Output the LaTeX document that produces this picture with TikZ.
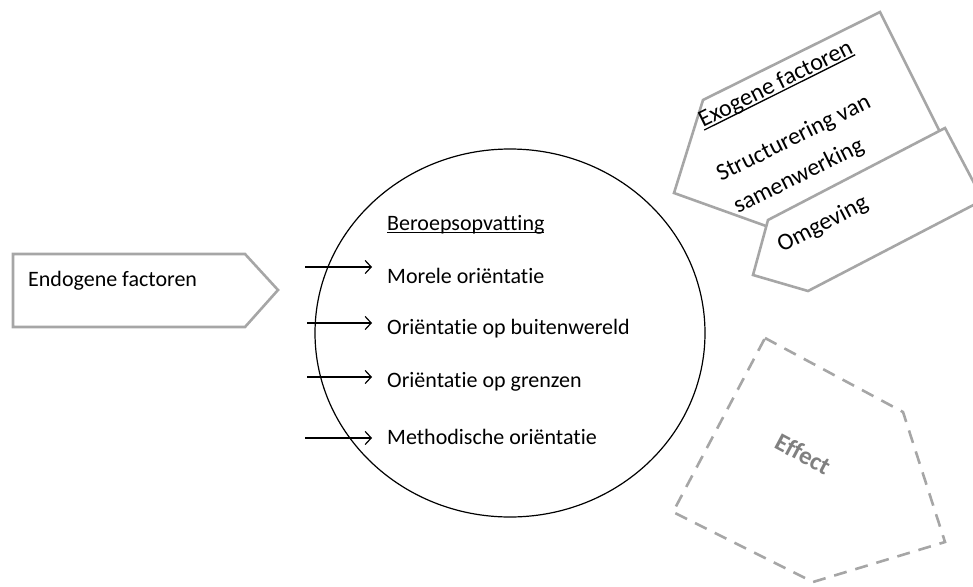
\documentclass[tikz,border=0pt]{standalone}
\usepackage{fontspec}
\setmainfont{Carlito}[Ligatures=NoCommon]
\usetikzlibrary{arrows.meta,shapes.geometric}
\definecolor{boxgray}{RGB}{166,166,166}
\definecolor{effgray}{RGB}{128,128,128}
\newcommand\myul[1]{\setbox0\hbox{#1}\rlap{\rule[-3pt]{\wd0}{1.3pt}}#1}
\begin{document}
\begin{tikzpicture}[x=1pt,y=-1pt,
  shapeline/.style={draw=boxgray,line width=2.6pt,fill=white,line join=miter},
  dashline/.style={draw=boxgray,line width=2.6pt,dash pattern=on 13pt off 9pt},
  lbl/.style={inner sep=0pt,font=\fontsize{22}{34}\selectfont},
  rlbl/.style={inner sep=0pt,font=\fontsize{24}{34}\selectfont},
  arr/.style={line width=1.2pt,-{Straight Barb[length=6pt,width=13pt,line width=1.2pt]}}]
\useasboundingbox (0,0) rectangle (973,586);
\clip (0,0) rectangle (973,586);
% left pentagon
\draw[shapeline] (13,254) -- (245,254) -- (278,290) -- (245,327) -- (13,327) -- cycle;
\node[lbl,anchor=base west] (endo) at (28,286) {Endogene factoren};
% ellipse
\node[draw,ellipse,line width=1.2pt,minimum width=390pt,minimum height=368pt,inner sep=0pt] (circ) at (510,333) {};
\node[lbl,anchor=base west] (beroep) at (387,230) {\myul{Beroepsopvatting}};
\node[lbl,anchor=base west] (m1) at (387,283) {Morele oriëntatie};
\node[lbl,anchor=base west] (m2) at (387,334) {Oriëntatie op buitenwereld};
\node[lbl,anchor=base west] (m3) at (387,387) {Oriëntatie op grenzen};
\node[lbl,anchor=base west] (m4) at (387,444) {Methodische oriëntatie};
\coordinate (s1) at (305,267); \coordinate (e1) at (372,267);
\coordinate (s2) at (307,323); \coordinate (e2) at (372,323);
\coordinate (s3) at (307,377); \coordinate (e3) at (372,377);
\coordinate (s4) at (305,438); \coordinate (e4) at (372,438);
\draw[arr] (s1) -- (e1);
\draw[arr] (s2) -- (e2);
\draw[arr] (s3) -- (e3);
\draw[arr] (s4) -- (e4);
% exogene box
\draw[shapeline] (880,12) -- (703,100) -- (674,193) -- (766,226) -- (943,138) -- cycle;
\node[rlbl,anchor=base west,rotate=26.5] (exo) at (703,128) {\myul{Exogene factoren}};
\node[rlbl,anchor=base west,rotate=26.5] (str1) at (721,182) {Structurering van};
\node[rlbl,anchor=base west,rotate=26.5] (str2) at (738,214) {samenwerking};
% omgeving box
\draw[shapeline] (945,128) -- (768,220) -- (753,275) -- (808,291) -- (983,200) -- cycle;
\node[rlbl,anchor=base west,rotate=27.5] (omg) at (782,253) {Omgeving};
% effect
\draw[dashline] (765,338) -- (903,412) -- (945,542) -- (813,582) -- (673,512) -- cycle;
\node[lbl,rotate=-28,text=effgray,font=\fontsize{25}{28}\selectfont\bfseries] (eff) at (803,454) {Effect};
\end{tikzpicture}
\end{document}
